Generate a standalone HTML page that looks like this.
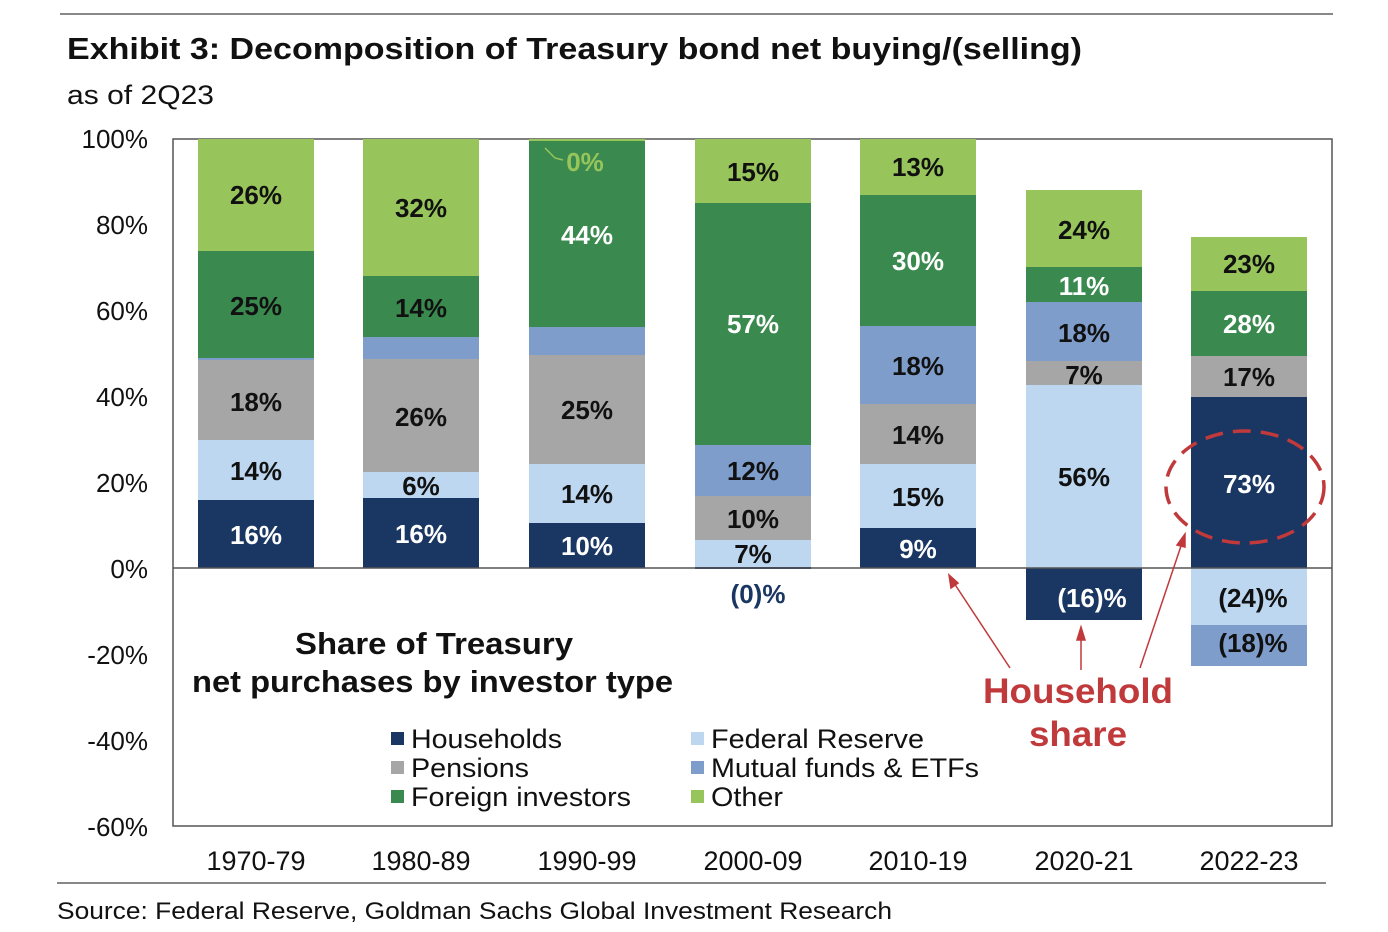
<!DOCTYPE html>
<html><head><meta charset="utf-8"><style>body{margin:0;background:#fff}svg{display:block}</style></head><body>
<svg width="1388" height="932" xmlns="http://www.w3.org/2000/svg" font-family="Liberation Sans, Arial, sans-serif">
<rect width="1388" height="932" fill="#fff"/>
<line x1="60" y1="14" x2="1333" y2="14" stroke="#888" stroke-width="2"/>
<text x="67" y="59" font-size="31" font-weight="bold" fill="#111" textLength="1015" lengthAdjust="spacingAndGlyphs">Exhibit 3: Decomposition of Treasury bond net buying/(selling)</text>
<text x="67" y="104" font-size="27" fill="#111" textLength="147" lengthAdjust="spacingAndGlyphs">as of 2Q23</text>
<rect x="173" y="139" width="1159" height="687" fill="none" stroke="#555" stroke-width="1.5"/>
<g font-size="26" fill="#111" text-anchor="end">
<text x="148" y="148">100%</text><text x="148" y="234">80%</text><text x="148" y="320">60%</text><text x="148" y="406">40%</text><text x="148" y="492">20%</text><text x="148" y="578">0%</text><text x="148" y="664">-20%</text><text x="148" y="750">-40%</text><text x="148" y="836">-60%</text>
</g>
<g>
<rect x="198" y="500" width="116" height="68" fill="#1a3663"/><rect x="198" y="440" width="116" height="60" fill="#bcd7ef"/><rect x="198" y="360" width="116" height="80" fill="#a6a6a6"/><rect x="198" y="358" width="116" height="2" fill="#7f9dcb"/><rect x="198" y="251" width="116" height="107" fill="#3a8a4f"/><rect x="198" y="139" width="116" height="112" fill="#97c45b"/>
<rect x="363" y="498" width="116" height="70" fill="#1a3663"/><rect x="363" y="472" width="116" height="26" fill="#bcd7ef"/><rect x="363" y="359" width="116" height="113" fill="#a6a6a6"/><rect x="363" y="337" width="116" height="22" fill="#7f9dcb"/><rect x="363" y="276" width="116" height="61" fill="#3a8a4f"/><rect x="363" y="139" width="116" height="137" fill="#97c45b"/>
<rect x="529" y="523" width="116" height="45" fill="#1a3663"/><rect x="529" y="464" width="116" height="59" fill="#bcd7ef"/><rect x="529" y="355" width="116" height="109" fill="#a6a6a6"/><rect x="529" y="327" width="116" height="28" fill="#7f9dcb"/><rect x="529" y="140" width="116" height="187" fill="#3a8a4f"/><rect x="529" y="139" width="116" height="2" fill="#97c45b"/>
<rect x="695" y="566" width="116" height="3" fill="#1a3663"/><rect x="695" y="540" width="116" height="27" fill="#bcd7ef"/><rect x="695" y="496" width="116" height="44" fill="#a6a6a6"/><rect x="695" y="445" width="116" height="51" fill="#7f9dcb"/><rect x="695" y="203" width="116" height="242" fill="#3a8a4f"/><rect x="695" y="139" width="116" height="64" fill="#97c45b"/>
<rect x="860" y="528" width="116" height="40" fill="#1a3663"/><rect x="860" y="464" width="116" height="64" fill="#bcd7ef"/><rect x="860" y="404" width="116" height="60" fill="#a6a6a6"/><rect x="860" y="326" width="116" height="78" fill="#7f9dcb"/><rect x="860" y="195" width="116" height="131" fill="#3a8a4f"/><rect x="860" y="139" width="116" height="56" fill="#97c45b"/>
<rect x="1026" y="385" width="116" height="183" fill="#bcd7ef"/><rect x="1026" y="361" width="116" height="24" fill="#a6a6a6"/><rect x="1026" y="302" width="116" height="59" fill="#7f9dcb"/><rect x="1026" y="267" width="116" height="35" fill="#3a8a4f"/><rect x="1026" y="190" width="116" height="77" fill="#97c45b"/><rect x="1026" y="568" width="116" height="52" fill="#1a3663"/>
<rect x="1191" y="397" width="116" height="171" fill="#1a3663"/><rect x="1191" y="356" width="116" height="41" fill="#a6a6a6"/><rect x="1191" y="291" width="116" height="65" fill="#3a8a4f"/><rect x="1191" y="237" width="116" height="54" fill="#97c45b"/><rect x="1191" y="568" width="116" height="57" fill="#bcd7ef"/><rect x="1191" y="625" width="116" height="41" fill="#7f9dcb"/>
</g>
<line x1="173" y1="568" x2="1332" y2="568" stroke="#555" stroke-width="1.5"/>
<g font-size="26" font-weight="bold" text-anchor="middle" fill="#111">
<text x="256" y="204">26%</text><text x="256" y="315">25%</text><text x="256" y="411">18%</text><text x="256" y="480">14%</text><text x="256" y="544" fill="#fff">16%</text>
<text x="421" y="217">32%</text><text x="421" y="317">14%</text><text x="421" y="426">26%</text><text x="421" y="495">6%</text><text x="421" y="543" fill="#fff">16%</text>
<text x="585" y="171" fill="#97c45b">0%</text><text x="587" y="244" fill="#fff">44%</text><text x="587" y="419">25%</text><text x="587" y="503">14%</text><text x="587" y="555" fill="#fff">10%</text>
<text x="753" y="181">15%</text><text x="753" y="333" fill="#fff">57%</text><text x="753" y="480">12%</text><text x="753" y="528">10%</text><text x="753" y="563">7%</text><text x="758" y="603" fill="#1a3663">(0)%</text>
<text x="918" y="176">13%</text><text x="918" y="270" fill="#fff">30%</text><text x="918" y="375">18%</text><text x="918" y="444">14%</text><text x="918" y="506">15%</text><text x="918" y="558" fill="#fff">9%</text>
<text x="1084" y="239">24%</text><text x="1084" y="295" fill="#fff">11%</text><text x="1084" y="342">18%</text><text x="1084" y="384">7%</text><text x="1084" y="486">56%</text><text x="1092" y="607" fill="#fff">(16)%</text>
<text x="1249" y="273">23%</text><text x="1249" y="333" fill="#fff">28%</text><text x="1249" y="386">17%</text><text x="1249" y="493" fill="#fff">73%</text><text x="1253" y="607">(24)%</text><text x="1253" y="652">(18)%</text>
</g>
<path d="M545 148 L555 158 L563 160" stroke="#97c45b" fill="none" stroke-width="1.5"/>
<ellipse cx="1245" cy="487" rx="79" ry="56" fill="none" stroke="#c0393b" stroke-width="3.5" stroke-dasharray="18,10"/>
<g stroke="#c0393b" stroke-width="1.5" fill="#c0393b">
<line x1="1010" y1="668" x2="952" y2="580"/><polygon points="949,575 951,588 958,583"/>
<line x1="1081" y1="670" x2="1081" y2="632"/><polygon points="1081,627 1077,640 1085,640"/>
<line x1="1140" y1="668" x2="1183" y2="540"/><polygon points="1185,534 1177,545 1185,547"/>
</g>
<g font-size="35" font-weight="bold" fill="#c0393b"><text x="983" y="703" textLength="190" lengthAdjust="spacingAndGlyphs">Household</text><text x="1029" y="746" textLength="98" lengthAdjust="spacingAndGlyphs">share</text></g>
<g font-size="31" font-weight="bold" fill="#111"><text x="295" y="654" textLength="278" lengthAdjust="spacingAndGlyphs">Share of Treasury</text><text x="192" y="692" textLength="481" lengthAdjust="spacingAndGlyphs">net purchases by investor type</text></g>
<g font-size="27" fill="#111" lengthAdjust="spacingAndGlyphs">
<rect x="391" y="732" width="13" height="13" fill="#1a3663"/><text x="411" y="748" textLength="151" lengthAdjust="spacingAndGlyphs">Households</text>
<rect x="391" y="761" width="13" height="13" fill="#a6a6a6"/><text x="411" y="777" textLength="118" lengthAdjust="spacingAndGlyphs">Pensions</text>
<rect x="391" y="790" width="13" height="13" fill="#3a8a4f"/><text x="411" y="806" textLength="220" lengthAdjust="spacingAndGlyphs">Foreign investors</text>
<rect x="691" y="732" width="13" height="13" fill="#bcd7ef"/><text x="711" y="748" textLength="213" lengthAdjust="spacingAndGlyphs">Federal Reserve</text>
<rect x="691" y="761" width="13" height="13" fill="#7f9dcb"/><text x="711" y="777" textLength="268" lengthAdjust="spacingAndGlyphs">Mutual funds &amp; ETFs</text>
<rect x="691" y="790" width="13" height="13" fill="#97c45b"/><text x="711" y="806" textLength="72" lengthAdjust="spacingAndGlyphs">Other</text>
</g>
<g font-size="27" fill="#111" text-anchor="middle">
<text x="256" y="870">1970-79</text><text x="421" y="870">1980-89</text><text x="587" y="870">1990-99</text><text x="753" y="870">2000-09</text><text x="918" y="870">2010-19</text><text x="1084" y="870">2020-21</text><text x="1249" y="870">2022-23</text>
</g>
<line x1="57" y1="883" x2="1326" y2="883" stroke="#888" stroke-width="2"/>
<text x="57" y="919" font-size="24" fill="#111" textLength="835" lengthAdjust="spacingAndGlyphs">Source: Federal Reserve, Goldman Sachs Global Investment Research</text>
</svg>
</body></html>
